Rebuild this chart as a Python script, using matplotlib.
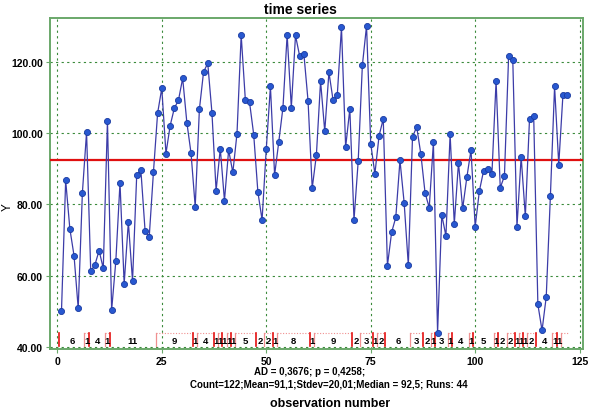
import matplotlib
matplotlib.use("Agg")
import matplotlib.pyplot as plt
import numpy as np

# ---- data ----
obs = list(range(1, 123))
values = [
    50.1, 86.7, 73.1, 65.6, 50.8, 83.2, 100.2, 61.2, 63.0, 67.0,
    62.0, 103.4, 50.3, 64.0, 86.0, 57.7, 75.0, 58.5, 88.1, 89.5,
    72.6, 70.9, 88.9, 105.5, 112.5, 94.2, 102.0, 106.9, 109.2, 115.3,
    102.9, 94.3, 79.3, 106.6, 117.1, 119.5, 105.7, 83.8, 95.6, 81.0,
    95.2, 88.9, 99.8, 127.4, 109.2, 108.6, 99.5, 83.4, 75.6, 95.4,
    113.0, 88.2, 97.5, 107.1, 127.5, 107.1, 127.3, 121.5, 122.2, 109.0,
    84.5, 93.8, 114.5, 100.4, 117.0, 109.1, 110.6, 129.6, 96.0, 106.7,
    75.6, 92.0, 118.9, 130.0, 97.0, 88.5, 99.2, 103.9, 62.8, 72.1,
    76.3, 92.3, 80.4, 62.9, 98.8, 101.7, 94.0, 83.2, 79.0, 97.3,
    44.0, 77.0, 71.1, 99.6, 74.5, 91.6, 78.8, 87.5, 95.2, 73.7,
    83.7, 89.3, 89.8, 88.4, 114.5, 84.6, 87.9, 121.5, 120.3, 73.7,
    93.3, 76.6, 103.9, 104.8, 51.9, 44.6, 54.0, 82.4, 113.0, 91.1,
    110.7, 110.7,
]
median_value = 92.5
x_ticks = [0, 25, 50, 75, 100, 125]
y_ticks = [40, 60, 80, 100, 120]
y_tick_labels = ["40.00", "60.00", "80.00", "100.00", "120.00"]
title = "time series"
xlabel = "observation number"
ylabel = "Y"
stats_line1 = "AD = 0,3676; p = 0,4258;"
stats_line2 = "Count=122;Mean=91,1;Stdev=20,01;Median = 92,5; Runs: 44"

plt.rcParams['font.family'] = ['Liberation Sans', 'DejaVu Sans']

fig = plt.figure(figsize=(6.04, 4.14), dpi=100)
ax = fig.add_axes([50/604, 1-350/414, (583-50)/604, (350-19)/414])

green = "#6aa86a"
ax.set_xlim(-1.75, 125.8)
ax.set_ylim(39.4, 132.2)
ax.set_xticks(x_ticks)
ax.set_yticks(y_ticks)
ax.set_yticklabels(y_tick_labels)
for lab in ax.get_xticklabels() + ax.get_yticklabels():
    lab.set_fontweight('bold')
    lab.set_fontsize(7.5)
ax.tick_params(axis='both', colors=green, labelcolor='black', length=3, width=0.8, pad=2)
for sp in ax.spines.values():
    sp.set_color(green)
    sp.set_linewidth(1.4)
ax.grid(True, color="#3a8a3a", linestyle=(0, (2, 3)), linewidth=0.8)
ax.set_axisbelow(True)

# runs band
vals = np.array(values)
above = vals > median_value
runs = []
start = 0
for i in range(1, len(vals) + 1):
    if i == len(vals) or above[i] != above[start]:
        runs.append((start, i - 1, above[start]))
        start = i
band_lo, band_hi = 40.3, 43.8
for k, (s, e, up) in enumerate(runs):
    xs = obs[s] - 0.5
    xe = obs[e] + 0.5
    if up:
        ax.plot([xs, xs], [band_lo, band_hi], color="#f09090", lw=0.9, zorder=2)
        ax.plot([xs, xe], [band_hi, band_hi], color="#f09090", lw=0.8,
                linestyle=(0, (1, 1.5)), zorder=2)
    else:
        ax.plot([xs, xs], [band_lo, band_hi], color="#e41010", lw=1.2, zorder=2)
    if k < len(runs) - 1:
        ax.text((xs + xe) / 2, 41.9, str(e - s + 1), ha='center', va='center',
                fontsize=6.8, fontweight='bold', color='black', zorder=3)

ax.axhline(median_value, color="#e01010", lw=1.6, zorder=3)
ax.plot(obs, values, color="#3c3ca8", lw=0.9, zorder=4)
ax.plot(obs, values, linestyle='none', marker='o', markersize=4.4,
        markerfacecolor="#2858d0", markeredgecolor="#1a3aa0", markeredgewidth=0.6,
        zorder=5)

fig.text(300/604, 1-10/414, title, ha='center', va='center', fontsize=10, fontweight='bold')
fig.text(310/604, 1-372/414, stats_line1, ha='center', va='center', fontsize=7, fontweight='bold')
fig.text(329/604, 1-385/414, stats_line2, ha='center', va='center', fontsize=7, fontweight='bold')
fig.text(330/604, 1-404/414, xlabel, ha='center', va='center', fontsize=9, fontweight='bold')
fig.text(8/604, 1-207/414, ylabel, ha='center', va='center', fontsize=8.5, rotation=90)

fig.savefig("out.png", dpi=100)
